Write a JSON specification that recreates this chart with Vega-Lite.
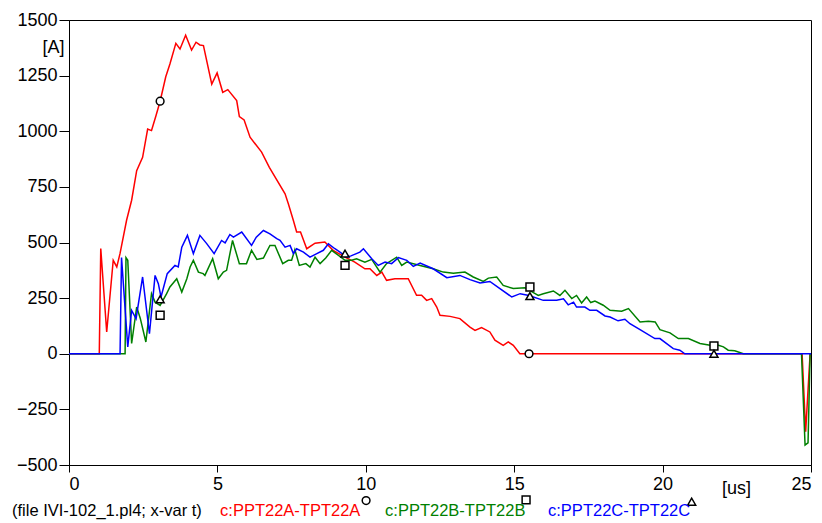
{
  "$schema": "https://vega.github.io/schema/vega-lite/v6.json",
  "width": 742,
  "height": 445,
  "autosize": {"type": "none"},
  "padding": {"left": 69, "top": 20, "right": 11, "bottom": 58},
  "background": "white",
  "config": {
    "font": "Liberation Sans",
    "view": {"stroke": "black", "strokeWidth": 1},
    "axis": {"grid": false, "domainColor": "black", "tickColor": "black", "labelColor": "black", "titleColor": "black", "labelFontSize": 18, "titleFontSize": 18, "titleFontWeight": "normal", "labelFont": "Liberation Sans", "titleFont": "Liberation Sans"}
  },
  "datasets": {
    "curves": [
      {"series":"A","t":0,"v":0},{"series":"A","t":1.02,"v":0},{"series":"A","t":1.07,"v":473},{"series":"A","t":1.27,"v":98},{"series":"A","t":1.49,"v":420},{"series":"A","t":1.61,"v":390},{"series":"A","t":1.72,"v":451},{"series":"A","t":1.94,"v":600},{"series":"A","t":2.11,"v":690},{"series":"A","t":2.28,"v":823},{"series":"A","t":2.48,"v":883},{"series":"A","t":2.65,"v":1010},{"series":"A","t":2.78,"v":1003},{"series":"A","t":2.93,"v":1070},{"series":"A","t":3.07,"v":1135},{"series":"A","t":3.26,"v":1245},{"series":"A","t":3.40,"v":1302},{"series":"A","t":3.60,"v":1395},{"series":"A","t":3.74,"v":1370},{"series":"A","t":3.93,"v":1432},{"series":"A","t":4.13,"v":1365},{"series":"A","t":4.28,"v":1400},{"series":"A","t":4.41,"v":1388},{"series":"A","t":4.53,"v":1385},{"series":"A","t":4.81,"v":1212},{"series":"A","t":4.99,"v":1262},{"series":"A","t":5.18,"v":1175},{"series":"A","t":5.35,"v":1187},{"series":"A","t":5.65,"v":1138},{"series":"A","t":5.74,"v":1066},{"series":"A","t":5.90,"v":1051},{"series":"A","t":6.10,"v":973},{"series":"A","t":6.49,"v":906},{"series":"A","t":6.75,"v":838},{"series":"A","t":7.28,"v":719},{"series":"A","t":7.39,"v":674},{"series":"A","t":7.56,"v":599},{"series":"A","t":7.67,"v":547},{"series":"A","t":7.80,"v":547},{"series":"A","t":8.01,"v":472},{"series":"A","t":8.29,"v":497},{"series":"A","t":8.62,"v":502},{"series":"A","t":8.90,"v":465},{"series":"A","t":9.30,"v":434},{"series":"A","t":9.63,"v":412},{"series":"A","t":9.97,"v":382},{"series":"A","t":10.14,"v":382},{"series":"A","t":10.37,"v":352},{"series":"A","t":10.54,"v":367},{"series":"A","t":10.70,"v":330},{"series":"A","t":10.98,"v":337},{"series":"A","t":11.43,"v":337},{"series":"A","t":11.71,"v":263},{"series":"A","t":11.88,"v":263},{"series":"A","t":12.05,"v":240},{"series":"A","t":12.22,"v":248},{"series":"A","t":12.39,"v":210},{"series":"A","t":12.50,"v":173},{"series":"A","t":12.84,"v":168},{"series":"A","t":13.17,"v":158},{"series":"A","t":13.51,"v":120},{"series":"A","t":13.68,"v":105},{"series":"A","t":13.90,"v":118},{"series":"A","t":14.18,"v":98},{"series":"A","t":14.35,"v":61},{"series":"A","t":14.63,"v":38},{"series":"A","t":14.80,"v":53},{"series":"A","t":14.97,"v":38},{"series":"A","t":15.19,"v":0},{"series":"A","t":24.70,"v":0},{"series":"A","t":24.82,"v":-350},{"series":"A","t":24.97,"v":0},{"series":"A","t":25,"v":0},
      {"series":"B","t":0,"v":0},{"series":"B","t":1.89,"v":0},{"series":"B","t":1.92,"v":432},{"series":"B","t":1.98,"v":420},{"series":"B","t":2.11,"v":46},{"series":"B","t":2.28,"v":210},{"series":"B","t":2.40,"v":160},{"series":"B","t":2.59,"v":53},{"series":"B","t":2.78,"v":270},{"series":"B","t":2.90,"v":232},{"series":"B","t":3.07,"v":217},{"series":"B","t":3.29,"v":270},{"series":"B","t":3.40,"v":300},{"series":"B","t":3.63,"v":337},{"series":"B","t":3.80,"v":277},{"series":"B","t":3.97,"v":337},{"series":"B","t":4.08,"v":390},{"series":"B","t":4.19,"v":420},{"series":"B","t":4.36,"v":367},{"series":"B","t":4.52,"v":360},{"series":"B","t":4.58,"v":352},{"series":"B","t":4.84,"v":427},{"series":"B","t":5.03,"v":337},{"series":"B","t":5.20,"v":367},{"series":"B","t":5.31,"v":375},{"series":"B","t":5.51,"v":509},{"series":"B","t":5.74,"v":405},{"series":"B","t":5.98,"v":405},{"series":"B","t":6.15,"v":465},{"series":"B","t":6.33,"v":424},{"series":"B","t":6.55,"v":430},{"series":"B","t":6.77,"v":487},{"series":"B","t":6.94,"v":487},{"series":"B","t":7.20,"v":405},{"series":"B","t":7.39,"v":420},{"series":"B","t":7.50,"v":420},{"series":"B","t":7.61,"v":468},{"series":"B","t":7.76,"v":397},{"series":"B","t":7.98,"v":405},{"series":"B","t":8.12,"v":390},{"series":"B","t":8.29,"v":434},{"series":"B","t":8.46,"v":405},{"series":"B","t":8.65,"v":430},{"series":"B","t":8.85,"v":465},{"series":"B","t":9.30,"v":420},{"series":"B","t":9.52,"v":420},{"series":"B","t":9.69,"v":427},{"series":"B","t":9.97,"v":412},{"series":"B","t":10.2,"v":424},{"series":"B","t":10.48,"v":367},{"series":"B","t":10.7,"v":405},{"series":"B","t":11.04,"v":434},{"series":"B","t":11.21,"v":397},{"series":"B","t":11.38,"v":412},{"series":"B","t":11.83,"v":397},{"series":"B","t":12.27,"v":382},{"series":"B","t":12.61,"v":367},{"series":"B","t":12.95,"v":362},{"series":"B","t":13.34,"v":367},{"series":"B","t":13.62,"v":345},{"series":"B","t":13.96,"v":325},{"series":"B","t":14.13,"v":340},{"series":"B","t":14.41,"v":345},{"series":"B","t":14.63,"v":307},{"series":"B","t":14.97,"v":293},{"series":"B","t":15.36,"v":297},{"series":"B","t":15.81,"v":262},{"series":"B","t":15.98,"v":270},{"series":"B","t":16.32,"v":282},{"series":"B","t":16.54,"v":262},{"series":"B","t":16.71,"v":285},{"series":"B","t":16.94,"v":248},{"series":"B","t":17.10,"v":262},{"series":"B","t":17.27,"v":228},{"series":"B","t":17.44,"v":255},{"series":"B","t":17.58,"v":230},{"series":"B","t":17.72,"v":237},{"series":"B","t":18.00,"v":218},{"series":"B","t":18.23,"v":195},{"series":"B","t":18.62,"v":191},{"series":"B","t":18.85,"v":203},{"series":"B","t":19.24,"v":143},{"series":"B","t":19.52,"v":146},{"series":"B","t":19.75,"v":143},{"series":"B","t":19.91,"v":108},{"series":"B","t":20.25,"v":94},{"series":"B","t":20.53,"v":68},{"series":"B","t":20.87,"v":68},{"series":"B","t":21.26,"v":46},{"series":"B","t":21.60,"v":38},{"series":"B","t":21.88,"v":38},{"series":"B","t":22.05,"v":31},{"series":"B","t":22.21,"v":16},{"series":"B","t":22.43,"v":13},{"series":"B","t":22.72,"v":0},{"series":"B","t":24.68,"v":0},{"series":"B","t":24.80,"v":-410},{"series":"B","t":24.90,"v":-400},{"series":"B","t":24.97,"v":0},{"series":"B","t":25,"v":0},
      {"series":"C","t":0,"v":0},{"series":"C","t":1.72,"v":0},{"series":"C","t":1.77,"v":432},{"series":"C","t":1.98,"v":31},{"series":"C","t":2.11,"v":195},{"series":"C","t":2.26,"v":158},{"series":"C","t":2.48,"v":345},{"series":"C","t":2.71,"v":90},{"series":"C","t":2.90,"v":352},{"series":"C","t":3.01,"v":315},{"series":"C","t":3.10,"v":255},{"series":"C","t":3.31,"v":360},{"series":"C","t":3.57,"v":397},{"series":"C","t":3.68,"v":390},{"series":"C","t":3.80,"v":479},{"series":"C","t":3.99,"v":532},{"series":"C","t":4.19,"v":450},{"series":"C","t":4.41,"v":532},{"series":"C","t":4.64,"v":495},{"series":"C","t":4.89,"v":450},{"series":"C","t":5.14,"v":509},{"series":"C","t":5.26,"v":498},{"series":"C","t":5.42,"v":536},{"series":"C","t":5.54,"v":524},{"series":"C","t":5.82,"v":547},{"series":"C","t":6.15,"v":487},{"series":"C","t":6.31,"v":524},{"series":"C","t":6.55,"v":554},{"series":"C","t":6.77,"v":539},{"series":"C","t":7.00,"v":517},{"series":"C","t":7.11,"v":510},{"series":"C","t":7.28,"v":479},{"series":"C","t":7.45,"v":487},{"series":"C","t":7.56,"v":450},{"series":"C","t":7.67,"v":472},{"series":"C","t":7.90,"v":457},{"series":"C","t":8.12,"v":434},{"series":"C","t":8.35,"v":450},{"series":"C","t":8.57,"v":465},{"series":"C","t":8.74,"v":494},{"series":"C","t":8.96,"v":472},{"series":"C","t":9.13,"v":457},{"series":"C","t":9.36,"v":434},{"series":"C","t":9.50,"v":440},{"series":"C","t":9.80,"v":457},{"series":"C","t":9.92,"v":472},{"series":"C","t":10.2,"v":427},{"series":"C","t":10.42,"v":397},{"series":"C","t":10.65,"v":412},{"series":"C","t":10.87,"v":405},{"series":"C","t":11.1,"v":432},{"series":"C","t":11.38,"v":420},{"series":"C","t":11.6,"v":393},{"series":"C","t":11.83,"v":408},{"series":"C","t":12.27,"v":382},{"series":"C","t":12.73,"v":342},{"series":"C","t":13.17,"v":352},{"series":"C","t":13.51,"v":333},{"series":"C","t":13.85,"v":318},{"series":"C","t":14.18,"v":325},{"series":"C","t":14.52,"v":293},{"series":"C","t":14.92,"v":255},{"series":"C","t":15.2,"v":270},{"series":"C","t":15.5,"v":262},{"series":"C","t":15.98,"v":240},{"series":"C","t":16.43,"v":240},{"series":"C","t":16.66,"v":247},{"series":"C","t":16.82,"v":220},{"series":"C","t":17.0,"v":232},{"series":"C","t":17.1,"v":210},{"series":"C","t":17.38,"v":210},{"series":"C","t":17.55,"v":195},{"series":"C","t":17.78,"v":195},{"series":"C","t":18.06,"v":170},{"series":"C","t":18.23,"v":165},{"series":"C","t":18.5,"v":148},{"series":"C","t":18.73,"v":155},{"series":"C","t":18.9,"v":135},{"series":"C","t":19.24,"v":108},{"series":"C","t":19.74,"v":68},{"series":"C","t":19.91,"v":68},{"series":"C","t":20.36,"v":23},{"series":"C","t":20.58,"v":16},{"series":"C","t":20.75,"v":0},{"series":"C","t":25,"v":0}
    ],
    "markers": [
      {"series":"A","t":3.07,"v":1135},{"series":"A","t":15.5,"v":0},
      {"series":"B","t":3.07,"v":173},{"series":"B","t":9.3,"v":397},{"series":"B","t":15.53,"v":300},{"series":"B","t":21.73,"v":35},
      {"series":"C","t":3.07,"v":245},{"series":"C","t":9.3,"v":450},{"series":"C","t":15.53,"v":259},{"series":"C","t":21.73,"v":0},
      {"series":"A","t":10.01,"v":-660},{"series":"B","t":15.4,"v":-657},{"series":"C","t":20.98,"v":-665}
    ],
    "labels": [
      {"text":"(file IVI-102_1.pl4; x-var t)","t":-1.92,"v":-729,"series":"note"},
      {"text":"c:PPT22A-TPT22A","t":5.09,"v":-729,"series":"A"},
      {"text":"c:PPT22B-TPT22B","t":10.65,"v":-729,"series":"B"},
      {"text":"c:PPT22C-TPT22C","t":16.14,"v":-729,"series":"C"}
    ]
  },
  "encoding": {
    "x": {"field": "t", "type": "quantitative", "scale": {"domain": [0, 25], "nice": false, "zero": false},
      "axis": {"values": [0, 5, 10, 15, 20, 25], "format": "d", "tickSize": 7, "labelPadding": 3, "title": "[us]", "titleX": 667, "titleY": 28, "titleBaseline": "alphabetic", "titleAlign": "center", "titlePadding": 0}},
    "y": {"field": "v", "type": "quantitative", "scale": {"domain": [-500, 1500], "nice": false, "zero": false},
      "axis": {"values": [-500, -250, 0, 250, 500, 750, 1000, 1250, 1500], "format": "d", "tickSize": 10, "labelPadding": 2, "title": "[A]", "titleAngle": 0, "titleX": -16, "titleY": 32, "titleAlign": "center", "titleBaseline": "alphabetic"}}
  },
  "layer": [
    {
      "data": {"name": "curves"},
      "mark": {"type": "line", "strokeWidth": 1.5, "clip": true},
      "encoding": {
        "color": {"field": "series", "type": "nominal", "scale": {"domain": ["A", "B", "C", "note"], "range": ["#ff0000", "#008000", "#0000ff", "#000000"]}, "legend": null}
      }
    },
    {
      "data": {"name": "markers"},
      "mark": {"type": "point", "filled": true, "fill": "white", "stroke": "black", "strokeWidth": 1.5, "opacity": 1},
      "encoding": {
        "shape": {"field": "series", "type": "nominal", "scale": {"domain": ["A", "B", "C"], "range": ["circle", "square", "triangle-up"]}, "legend": null},
        "size": {"field": "series", "type": "nominal", "scale": {"domain": ["A", "B", "C"], "range": [60, 64, 170]}, "legend": null}
      }
    },
    {
      "data": {"name": "labels"},
      "mark": {"type": "text", "align": "left", "baseline": "alphabetic", "fontSize": 16.5, "font": "Liberation Sans"},
      "encoding": {
        "text": {"field": "text"},
        "color": {"field": "series", "type": "nominal", "scale": {"domain": ["A", "B", "C", "note"], "range": ["#ff0000", "#008000", "#0000ff", "#000000"]}, "legend": null}
      }
    }
  ]
}
